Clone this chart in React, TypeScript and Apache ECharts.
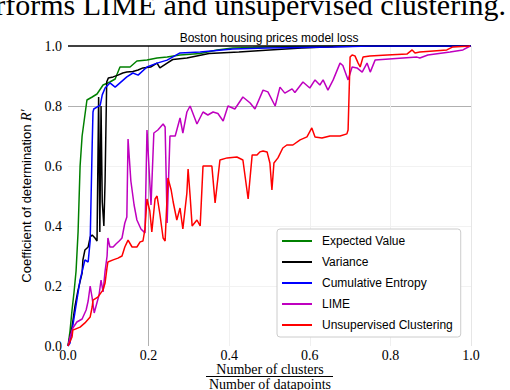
import React, { useEffect, useRef } from "react";
import * as echarts from "echarts";

const seriesNames = ["Expected Value", "Variance", "Cumulative Entropy", "LIME", "Unsupervised Clustering"];
const seriesColors = ["#008000", "#000000", "#0000ff", "#bf00bf", "#ff0000"];
const tickLabels = ["0.0", "0.2", "0.4", "0.6", "0.8", "1.0"];

const evX = [0, .005, .01, .015, .02, .025, .03, .035, .04, .047, .06, .072, .087, .104, .117, .129, .154, .171, .196, .221, .246, .278, .328, .37, .409, .459, .501, .576, .7, .824, 1.0];
const evY = [0, .05, .12, .18, .25, .38, .60, .70, .75, .82, .83, .84, .87, .88, .89, .93, .93, .95, .953, .96, .963, .97, .975, .987, .993, .995, .997, .998, 1.0, 1.0, 1.0];

const varX = [0, .01, .017, .025, .035, .037, .042, .05, .055, .06, .067, .072, .076, .079, .082, .085, .089, .092, .096, .1, .112, .124, .136, .146, .161, .174, .186, .205, .221, .228, .246, .26, .295, .35, .424, .5, .58, .67, .75, 1.0];
const varY = [0, .063, .13, .187, .243, .287, .32, .33, .363, .37, .36, .35, .83, .38, .80, .48, .40, .55, .88, .893, .897, .903, .91, .913, .915, .92, .927, .93, .943, .927, .943, .955, .96, .975, .98, .987, .993, .998, 1.0, 1.0];

const ceX = [0, .005, .017, .03, .042, .05, .055, .06, .062, .064, .08, .085, .092, .104, .117, .129, .146, .161, .174, .196, .221, .246, .278, .328, .409, .494, .658, .75, 1.0];
const ceY = [0, .01, .11, .22, .287, .28, .35, .67, .78, .79, .803, .837, .86, .877, .863, .877, .897, .91, .903, .93, .943, .953, .977, .98, .99, .993, .997, 1.0, 1.0];

const limeX = [0, .005, .012, .022, .035, .045, .05, .055, .06, .065, .069, .077, .082, .087, .092, .097, .099, .104, .112, .119, .127, .134, .141, .146, .149, .156, .164, .171, .181, .191, .196, .206, .213, .223, .236, .241, .246, .253, .266, .278, .285, .295, .303, .32, .335, .347, .36, .372, .385, .397, .414, .434, .452, .464, .484, .496, .514, .526, .538, .556, .563, .583, .60, .613, .625, .633, .645, .658, .675, .682, .695, .705, .717, .73, .742, .75, .762, .866, .873, .893, .948, .98, .998];
const limeY = [0, .03, .06, .08, .09, .12, .15, .20, .16, .11, .13, .17, .22, .18, .25, .30, .36, .33, .33, .34, .35, .36, .41, .43, .69, .55, .47, .42, .39, .377, .72, .47, .71, .72, .74, .73, .41, .70, .70, .76, .71, .78, .80, .74, .78, .77, .78, .775, .75, .80, .79, .83, .81, .79, .853, .847, .80, .863, .843, .857, .845, .88, .86, .887, .87, .887, .853, .887, .943, .935, .887, .93, .927, .913, .943, .913, .953, .963, .96, .97, .98, .987, 1.0];

const ucX = [0, .01, .012, .03, .042, .055, .06, .062, .074, .087, .092, .097, .099, .112, .124, .134, .141, .149, .159, .171, .179, .186, .191, .196, .203, .208, .216, .221, .228, .236, .241, .248, .256, .261, .27, .278, .285, .295, .298, .303, .308, .32, .328, .335, .347, .357, .365, .377, .395, .419, .434, .447, .457, .469, .476, .484, .494, .501, .506, .511, .521, .533, .543, .558, .576, .593, .605, .613, .63, .65, .675, .692, .695, .70, .705, .712, .72, .725, .732, .749, .792, .841, .854, .861, .873, .94, .955, .998];
const ucY = [0, .03, .053, .063, .077, .097, .13, .153, .163, .187, .21, .263, .28, .287, .293, .30, .33, .353, .33, .33, .347, .35, .39, .49, .45, .38, .49, .50, .44, .36, .35, .56, .52, .48, .42, .46, .39, .51, .59, .50, .40, .42, .40, .60, .60, .60, .477, .62, .627, .63, .62, .49, .637, .637, .647, .65, .647, .61, .52, .61, .627, .66, .67, .67, .687, .697, .727, .697, .693, .70, .70, .707, .72, .963, .97, .967, .943, .93, .963, .967, .97, .973, .987, .977, .98, .987, .997, 1.0];

const allX = [evX, varX, ceX, limeX, ucX];
const allY = [evY, varY, ceY, limeY, ucY];

export default function App() {
  const ref = useRef<HTMLDivElement>(null);
  useEffect(() => {
    if (!ref.current) return;
    const chart = echarts.init(ref.current, null, { renderer: "svg" });
    const series: any[] = seriesNames.map((name, k) => ({
      name,
      type: "line",
      symbol: "none",
      showSymbol: false,
      data: allX[k].map((x, i) => [x, allY[k][i]]),
      lineStyle: { color: seriesColors[k], width: 1.5 },
      itemStyle: { color: seriesColors[k] },
      z: 3 + k,
    }));
    series[0].markLine = {
      silent: true,
      symbol: "none",
      label: { show: false },
      lineStyle: { color: "#000", width: 1.5, type: "solid" },
      data: [{ yAxis: 1 }],
    };
    chart.setOption({
      animation: false,
      backgroundColor: "#fff",
      grid: { left: 68, top: 46, width: 403, height: 300 },
      xAxis: {
        type: "value",
        min: 0,
        max: 1,
        interval: 0.2,
        axisLine: { show: false },
        axisTick: { show: false },
        axisLabel: {
          margin: 2,
          formatter: (v: number) => tickLabels[Math.round(v * 5)],
          fontFamily: "Liberation Serif",
          fontSize: 14,
          lineHeight: 14,
          color: "#000",
        },
        splitLine: {
          show: true,
          lineStyle: { color: ["rgba(0,0,0,0)", "#b0b0b0", "#f0f0f0", "#f0f0f0", "#f0f0f0", "#e6e6e6"], width: 1 },
        },
      },
      yAxis: {
        type: "value",
        min: 0,
        max: 1,
        interval: 0.2,
        axisLine: { show: false },
        axisTick: { show: false },
        axisLabel: {
          margin: 6,
          formatter: (v: number) => tickLabels[Math.round(v * 5)],
          fontFamily: "Liberation Serif",
          fontSize: 14,
          color: "#000",
        },
        splitLine: {
          show: true,
          lineStyle: { color: ["rgba(0,0,0,0)", "#f2f2f2", "#f2f2f2", "#f2f2f2", "#b0b0b0", "rgba(0,0,0,0)"], width: 1 },
        },
        name: "Coefficient of determination {i|R′}",
        nameLocation: "middle",
        nameGap: 21,
        nameRotate: 90,
        nameTextStyle: {
          fontFamily: "Liberation Sans",
          fontSize: 13,
          color: "#000",
          rich: { i: { fontFamily: "Liberation Serif", fontStyle: "italic", fontSize: 14, color: "#000" } },
        },
      },
      legend: {
        orient: "vertical",
        left: 277,
        top: 229,
        icon: "rect",
        itemWidth: 30,
        itemHeight: 2,
        itemGap: 7,
        padding: [5, 8, 5, 5],
        borderColor: "#cccccc",
        borderWidth: 1,
        borderRadius: 3,
        backgroundColor: "#fff",
        data: seriesNames,
        textStyle: { fontFamily: "Liberation Sans", fontSize: 12, lineHeight: 14, color: "#000", padding: [0, 0, 0, 5] },
      },
      graphic: [
        {
          type: "text",
          x: 506,
          y: 4,
          style: {
            text: "rforms LIME and unsupervised clustering.",
            font: "30px 'Liberation Serif'",
            fill: "#000",
            align: "right",
            verticalAlign: "middle",
          },
        },
        {
          type: "text",
          x: 269,
          y: 38,
          style: {
            text: "Boston housing prices model loss",
            font: "12px 'Liberation Sans'",
            fill: "#000",
            align: "center",
            verticalAlign: "middle",
          },
        },
        {
          type: "text",
          x: 270,
          y: 369.5,
          style: {
            text: "Number of clusters",
            font: "14px 'Liberation Serif'",
            fill: "#000",
            align: "center",
            verticalAlign: "middle",
          },
        },
        {
          type: "line",
          shape: { x1: 206, y1: 376.5, x2: 333, y2: 376.5 },
          style: { stroke: "#000", lineWidth: 1 },
        },
        {
          type: "text",
          x: 270,
          y: 384,
          style: {
            text: "Number of datapoints",
            font: "14px 'Liberation Serif'",
            fill: "#000",
            align: "center",
            verticalAlign: "middle",
          },
        },
      ],
      series,
    });
    return () => chart.dispose();
  }, []);
  return <div ref={ref} style={{ position: "fixed", left: 0, top: 0, width: 510, height: 390 }} />;
}
